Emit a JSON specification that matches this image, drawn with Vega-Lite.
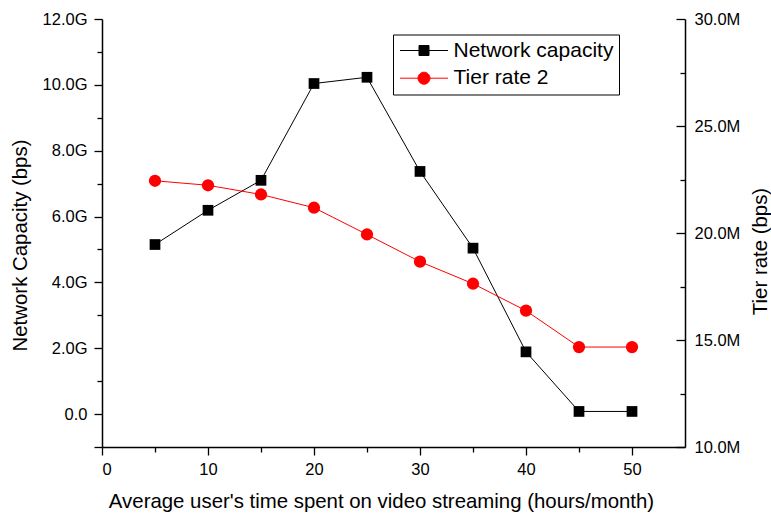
{
  "$schema": "https://vega.github.io/schema/vega-lite/v6.json",
  "width": 583,
  "height": 428,
  "autosize": {"type": "none"},
  "padding": {"left": 102, "top": 19, "right": 86, "bottom": 69},
  "background": "white",
  "config": {
    "font": "Liberation Sans",
    "view": {"stroke": null},
    "axis": {
      "grid": false,
      "labelFont": "Liberation Sans",
      "labelFontSize": 16.5,
      "labelColor": "black",
      "titleFont": "Liberation Sans",
      "titleFontSize": 20.4,
      "titleFontWeight": "normal",
      "titleColor": "black",
      "titleBaseline": "alphabetic",
      "titleAlign": "center",
      "domainColor": "black",
      "domainWidth": 1.5,
      "tickColor": "black",
      "tickWidth": 1.3
    }
  },
  "data": {
    "values": [
      {"hours": 5, "series": "Network capacity", "rate": 5.15},
      {"hours": 10, "series": "Network capacity", "rate": 6.19},
      {"hours": 15, "series": "Network capacity", "rate": 7.1},
      {"hours": 20, "series": "Network capacity", "rate": 10.04},
      {"hours": 25, "series": "Network capacity", "rate": 10.23},
      {"hours": 30, "series": "Network capacity", "rate": 7.37},
      {"hours": 35, "series": "Network capacity", "rate": 5.04},
      {"hours": 40, "series": "Network capacity", "rate": 1.89},
      {"hours": 45, "series": "Network capacity", "rate": 0.08},
      {"hours": 50, "series": "Network capacity", "rate": 0.08},
      {"hours": 5, "series": "Tier rate 2", "rate": 22.44},
      {"hours": 10, "series": "Tier rate 2", "rate": 22.23},
      {"hours": 15, "series": "Tier rate 2", "rate": 21.8},
      {"hours": 20, "series": "Tier rate 2", "rate": 21.18},
      {"hours": 25, "series": "Tier rate 2", "rate": 19.93},
      {"hours": 30, "series": "Tier rate 2", "rate": 18.66},
      {"hours": 35, "series": "Tier rate 2", "rate": 17.63},
      {"hours": 40, "series": "Tier rate 2", "rate": 16.37},
      {"hours": 45, "series": "Tier rate 2", "rate": 14.67},
      {"hours": 50, "series": "Tier rate 2", "rate": 14.67}
    ]
  },
  "encoding": {
    "x": {
      "field": "hours",
      "type": "quantitative",
      "scale": {"domain": [0, 55], "nice": false, "zero": false},
      "axis": {
        "title": "Average user's time spent on video streaming (hours/month)",
        "values": [0, 5, 10, 15, 20, 25, 30, 35, 40, 45, 50],
        "labelExpr": "datum.value % 10 === 0 ? format(datum.value, 'd') : ''",
        "tickSize": {"condition": {"test": "datum.value % 10 === 0", "value": 8}, "value": 5},
        "labelPadding": 6,
        "titleX": 279,
        "titleY": 60.6
      }
    }
  },
  "layer": [
    {
      "transform": [{"filter": "datum.series === 'Network capacity'"}],
      "encoding": {
        "y": {
          "field": "rate",
          "type": "quantitative",
          "scale": {"domain": [-1, 12], "nice": false, "zero": false},
          "axis": {
            "orient": "left",
            "title": "Network Capacity (bps)",
            "titleAngle": 270,
            "values": [-1, 0, 1, 2, 3, 4, 5, 6, 7, 8, 9, 10, 11, 12],
            "labelExpr": "datum.value % 2 === 0 ? (datum.value === 0 ? '0.0' : format(datum.value, '.1f') + 'G') : ''",
            "tickSize": {"condition": {"test": "datum.value % 2 !== 1", "value": 8}, "value": 5},
            "labelPadding": 7,
            "titleX": -76,
            "titleY": 226
          }
        },
        "color": {
          "field": "series",
          "type": "nominal",
          "scale": {"domain": ["Network capacity", "Tier rate 2"], "range": ["#000000", "#FF0000"]},
          "legend": {
            "title": null,
            "orient": "none",
            "legendX": 291,
            "legendY": 15.5,
            "strokeColor": "black",
            "fillColor": "white",
            "padding": 5.5,
            "labelFont": "Liberation Sans",
            "labelFontSize": 21,
            "labelColor": "black",
            "symbolSize": 400,
            "symbolStrokeWidth": 1,
            "symbolOffset": 15,
            "labelOffset": 19,
            "rowPadding": 5.7,
            "labelExpr": "datum.label + ' '",
            "encode": {
              "symbols": {
                "update": {
                  "shape": {"signal": "datum.value === 'Network capacity' ? 'M-2.4,0H2.4M-0.5,-0.5H0.5V0.5H-0.5Z' : 'M-2.4,0H2.4M0.6,0A0.6,0.6,0,1,1,-0.6,0A0.6,0.6,0,1,1,0.6,0Z'"},
                  "fill": {"signal": "datum.value === 'Network capacity' ? '#000000' : '#FF0000'"},
                  "stroke": {"signal": "datum.value === 'Network capacity' ? '#000000' : '#FF0000'"},
                  "strokeWidth": {"value": 1},
                  "opacity": {"value": 1},
                  "fillOpacity": {"value": 1},
                  "strokeOpacity": {"value": 1}
                }
              }
            }
          }
        }
      },
      "layer": [
        {"mark": {"type": "line", "strokeWidth": 1}},
        {"mark": {"type": "point", "shape": "square", "filled": true, "size": 115, "opacity": 1}}
      ]
    },
    {
      "transform": [{"filter": "datum.series === 'Tier rate 2'"}],
      "encoding": {
        "y": {
          "field": "rate",
          "type": "quantitative",
          "scale": {"domain": [10, 30], "nice": false, "zero": false},
          "axis": {
            "orient": "right",
            "title": "Tier rate (bps)",
            "titleAngle": 270,
            "values": [10, 12.5, 15, 17.5, 20, 22.5, 25, 27.5, 30],
            "labelExpr": "datum.value % 5 === 0 ? format(datum.value, '.1f') + 'M' : ''",
            "tickSize": {"condition": {"test": "datum.value % 5 === 0", "value": -9}, "value": -5},
            "labelPadding": 18,
            "titleX": 81,
            "titleY": 232
          }
        },
        "color": {
          "field": "series",
          "type": "nominal",
          "scale": {"domain": ["Network capacity", "Tier rate 2"], "range": ["#000000", "#FF0000"]}
        }
      },
      "layer": [
        {"mark": {"type": "line", "strokeWidth": 1}},
        {"mark": {"type": "point", "shape": "circle", "filled": true, "size": 150, "opacity": 1}}
      ]
    }
  ],
  "resolve": {"scale": {"y": "independent"}}
}
